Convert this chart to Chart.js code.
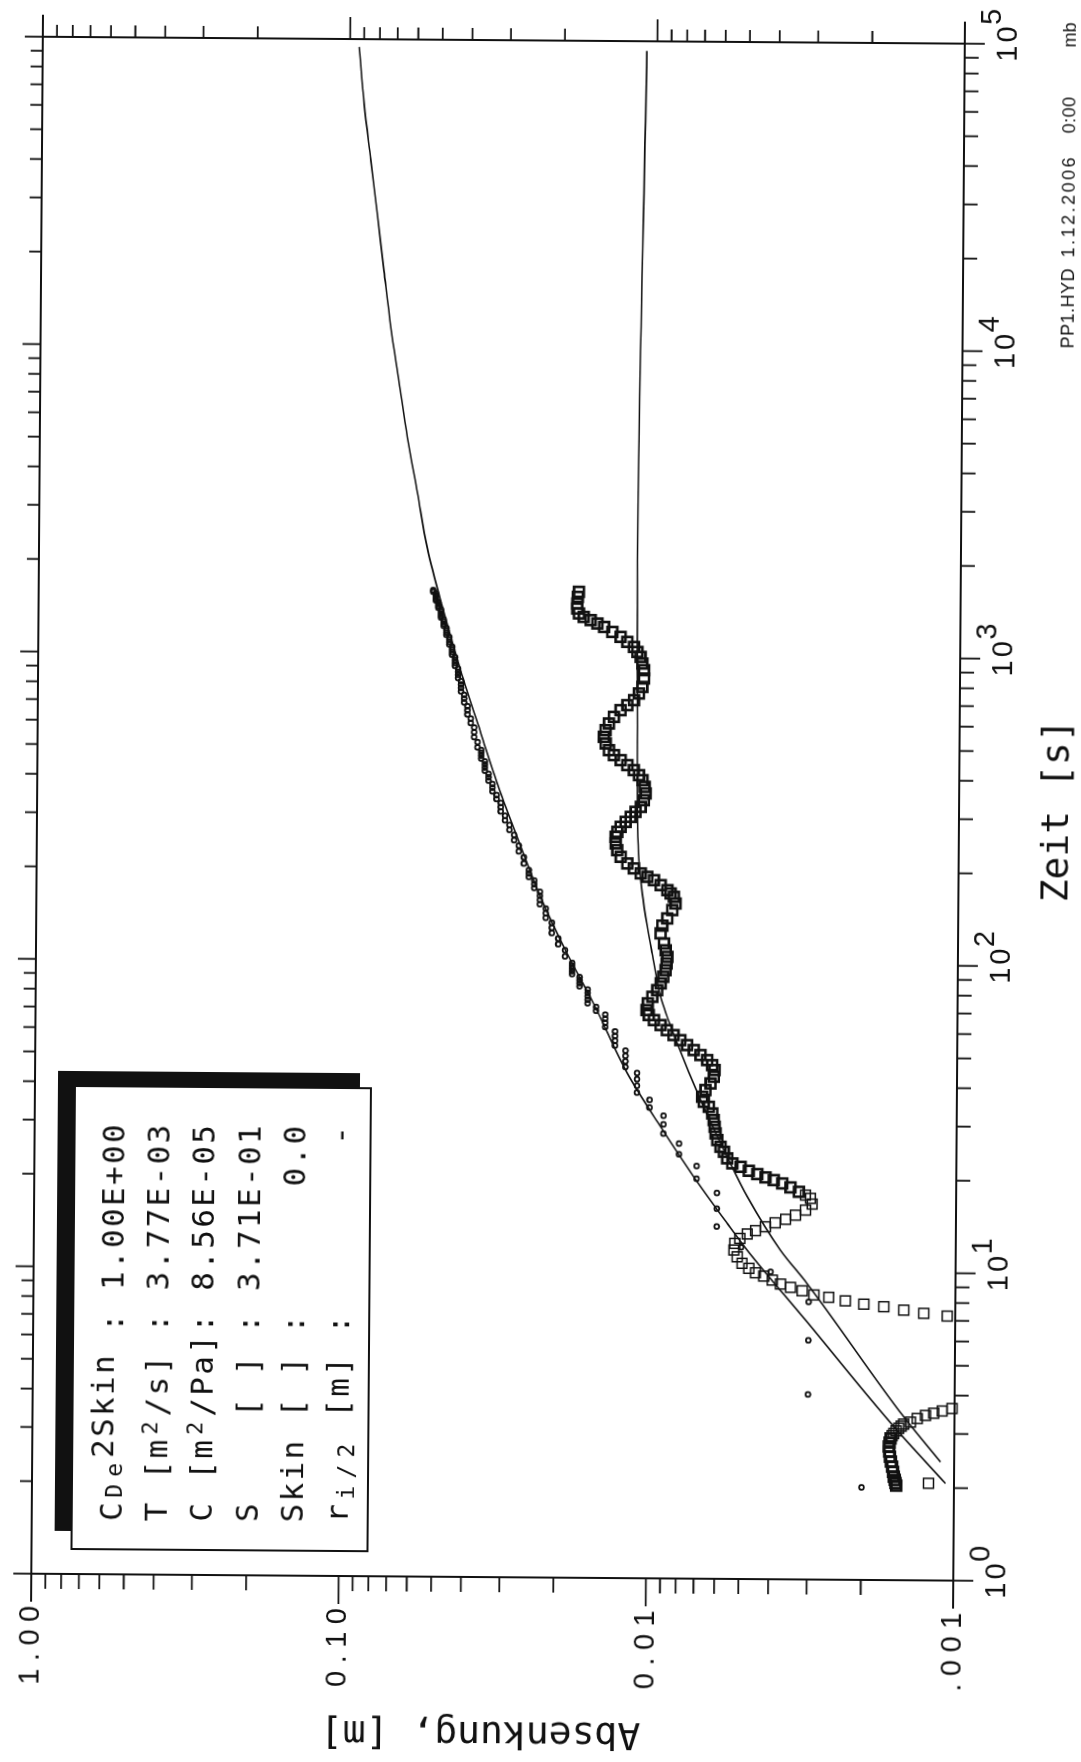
<!DOCTYPE html>
<html>
  <head>
    <meta charset="utf-8">
    <title>PP1 - Absenkung / Zeit</title>
    <script src="https://cdn.jsdelivr.net/npm/chart.js@4.4.1/dist/chart.umd.min.js"></script>
    <style>
      html, body { margin: 0; padding: 0; background: #fff; }
      body { width: 1081px; height: 1762px; position: relative; overflow: hidden; }
      /* the plot is printed in landscape, turned onto the portrait page */
      #sheet {
        position: absolute; left: -340.5px; top: 340.5px;
        width: 1762px; height: 1081px;
        transform: rotate(-89.57deg);
      }
      canvas { display: block; }
    </style>
  </head>
  <body>
    <div id="sheet"><canvas id="canvas" width="1762" height="1081"></canvas></div>
    <script>
      var ink = '#111';

      // squares: time [s] and drawdown [mm]
      var squareTime = [2.07, 2.03, 2.07, 2.12, 2.17, 2.25, 2.34, 2.43, 2.52, 2.62, 2.72, 2.80, 2.89, 2.95, 3.00, 3.06, 3.12, 3.17, 3.22, 3.27, 3.36, 3.44, 3.50, 3.56, 3.63,
        7.25, 7.39, 7.56, 7.75, 7.89, 8.08, 8.29, 8.43, 8.69, 8.91, 9.13, 9.40, 9.68, 9.92, 10.25, 10.64, 11.17, 11.75, 12.35, 12.82, 13.26, 13.60, 14.01, 14.44, 14.83, 15.31, 15.91, 16.65,
        17.38, 17.80, 18.24, 18.84, 19.40, 19.88, 20.28, 20.78, 21.29, 21.92, 22.48, 23.34, 24.51, 25.44, 26.75, 28.12, 29.55, 31.07, 32.65, 34.30, 35.60, 36.97, 38.88, 40.87, 42.98, 45.19,
        46.88, 48.67, 50.52, 52.42, 54.39, 56.42, 58.59, 60.78, 63.10, 65.46, 67.96, 70.54, 74.18, 77.94, 81.94, 86.24, 90.61, 95.25, 100.1, 105.2, 110.5,
        116.3, 125.4, 132.9, 140.3, 149.4, 157.0, 165.0, 169.2, 173.4, 180.0, 186.7, 191.4, 196.3, 203.7, 211.3, 222.0, 233.3, 245.3, 257.8, 267.6,
        277.9, 288.5, 299.6, 311.2, 323.1, 339.8, 357.4, 375.5, 394.7, 409.7, 425.3, 441.4, 458.0, 475.3, 493.2, 518.5, 544.7, 572.8, 602.3, 633.0,
        666.0, 691.6, 718.2, 755.3, 793.6, 845.3, 899.5, 945.6, 993.6, 1031, 1070, 1111, 1153, 1196, 1241, 1273, 1305, 1336, 1371, 1422, 1477, 1552, 1612];
      var squareMm = [1.21, 1.54, 1.55, 1.56, 1.571, 1.58, 1.590, 1.605, 1.619, 1.626, 1.632, 1.625, 1.613, 1.595, 1.575, 1.547, 1.517, 1.49, 1.462, 1.390, 1.322, 1.243, 1.168, 1.097, 1.019,
        1.062, 1.266, 1.471, 1.709, 1.985, 2.279, 2.582, 2.888, 3.151, 3.440, 3.710, 3.948, 4.205, 4.478, 4.709, 4.955, 5.140, 5.272, 5.237, 5.045, 4.772, 4.488, 4.168, 3.873, 3.583, 3.328, 3.089, 2.939,
        2.977, 3.090, 3.250, 3.461, 3.680, 3.923, 4.173, 4.444, 4.734, 5.037, 5.361, 5.569, 5.711, 5.856, 6.005, 6.088, 6.133, 6.171, 6.245, 6.409, 6.658, 6.739, 6.577, 6.338, 6.185, 6.152,
        6.264, 6.506, 6.843, 7.196, 7.571, 7.966, 8.384, 8.815, 9.241, 9.716, 10.10, 10.27, 10.18, 9.849, 9.494, 9.262, 9.084, 8.929, 8.868, 8.823, 8.93,
        9.057, 9.29, 9.173, 8.844, 8.523, 8.316, 8.428, 8.64, 8.856, 9.311, 9.797, 10.29, 10.82, 11.39, 11.97, 12.58, 12.91, 13.07, 13.08, 12.92,
        12.61, 12.15, 11.70, 11.28, 10.86, 10.61, 10.47, 10.56, 10.74, 11.02, 11.45, 12.03, 12.65, 13.31, 13.82, 14.17, 14.36, 14.19, 13.84, 13.34,
        12.69, 12.07, 11.49, 11.07, 10.80, 10.67, 10.68, 10.82, 10.96, 11.23, 11.53, 12.11, 12.74, 13.57, 14.44, 15.18, 15.97, 16.81, 17.43, 17.66, 17.66, 17.58, 17.46];

      // circles: logged in 1 mm steps -> first time at each level
      var dotLevelMm = [2, 3, 4, 5, 6, 7, 8, 9, 10, 11, 12, 13, 14, 15, 16, 17, 18, 19, 20, 21, 22, 23, 24, 25, 26, 27,
        28, 29, 30, 31, 32, 33, 34, 35, 36, 37, 38, 39, 40, 41, 42, 43, 44, 45, 46, 47, 48, 49, 50, 51, 52];
      var dotLevelStart = [2, 4, 10, 12, 14, 20, 24, 28, 34, 38, 46, 54, 62, 70, 74, 84, 92, 102, 112, 124, 138, 154, 172, 188, 206, 224,
        242, 264, 284, 308, 332, 360, 388, 420, 456, 496, 538, 584, 634, 694, 760, 828, 906, 992, 1080, 1160, 1236, 1318, 1406, 1500, 1584];
      var dotLastTime = 1620;
      var dotStepUntil = [100, 200, 500, Infinity];   // logger interval [s]
      var dotStep = [2, 5, 10, 20];

      // fitted curves
      var curveATime = [2.07, 3.16, 6.98, 11.75, 14.35, 20.3, 29.5, 43.9, 74, 107.4, 164, 238, 354, 555, 890, 1425, 2217, 3360, 5085, 7700, 11660, 17670, 26750, 40530, 61380, 94300];
      var curveAMm = [1.066, 1.575, 3.07, 4.77, 5.55, 7.15, 9.20, 11.83, 15.3, 18.7, 22.9, 26.6, 31.0, 36.1, 42.2, 48.5, 54.5, 58.9, 63.7, 68.0, 72.6, 76.6, 80.7, 85.1, 89.7, 93.4];
      var curveBTime = [2.43, 3.40, 9.19, 11.77, 17.52, 23.62, 36.06, 55.06, 78.0, 107.8, 131.6, 168.9, 216.7, 277, 718, 2049, 93000];
      var curveBMm = [1.108, 1.462, 3.043, 3.72, 4.78, 5.57, 6.82, 8.15, 9.26, 9.88, 10.26, 10.68, 10.97, 11.1, 11.20, 11.29, 10.82];

      var xDecades = [1, 10, 100, 1000, 10000, 100000];
      var xExponents = ['0', '1', '2', '3', '4', '5'];
      var yDecades = [1, 0.1, 0.01, 0.001];
      var yTickLabels = ['1.00', '0.10', '0.01', '.001'];

      // parameter box, monospaced; mask: b = small, l = small lowered, u = raised, s = small raised
      var paramLines = [
        'CDe2Skin : 1.00E+00',
        'T [m2/s] : 3.77E-03',
        'C [m2/Pa]: 8.56E-05',
        'S    [ ] : 3.71E-01',
        'Skin [ ] :      0.0',
        'ri/2 [m] :        -'
      ];
      var paramMasks = [
        '.bbuuuuu',
        '....s',
        '....s',
        '',
        '',
        '.lll'
      ];

      function pairs(ts, vs) {
        return ts.map(function (t, i) { return { x: t, y: vs[i] / 1000 }; });
      }

      function stepAt(t) {
        for (var i = 0; i < dotStepUntil.length; i++) {
          if (t < dotStepUntil[i]) return dotStep[i];
        }
        return dotStep[dotStep.length - 1];
      }

      function dotData() {
        var out = [], lvl = 0, t = dotLevelStart[0];
        while (t <= dotLastTime) {
          while (lvl + 1 < dotLevelStart.length && dotLevelStart[lvl + 1] <= t) lvl++;
          out.push({ x: t, y: dotLevelMm[lvl] / 1000 });
          t += stepAt(t);
        }
        return out;
      }

      function logTicks(min, max) {
        var out = [];
        for (var d = min; d < max * 1.0001; d *= 10) {
          out.push({ v: d, major: true });
          if (d * 10 > max * 1.0001) break;
          for (var k = 2; k <= 9; k++) out.push({ v: k * d, major: false });
        }
        return out;
      }

      function spacedWidth(ctx, txt, sp) {
        var w = 0;
        for (var i = 0; i < txt.length; i++) w += ctx.measureText(txt[i]).width;
        return w + sp * (txt.length - 1);
      }

      function drawSpaced(ctx, txt, x, y, sp) {
        ctx.textAlign = 'left';
        for (var i = 0; i < txt.length; i++) {
          ctx.fillText(txt[i], x, y);
          x += ctx.measureText(txt[i]).width + sp;
        }
      }

      function drawParams(ctx) {
        ctx.fillStyle = ink;
        ctx.fillRect(228, 59, 460, 302);
        ctx.fillStyle = '#fff';
        ctx.fillRect(210, 76, 463, 296);
        ctx.strokeStyle = ink;
        ctx.lineWidth = 2;
        ctx.strokeRect(210, 76, 463, 296);

        ctx.fillStyle = ink;
        ctx.textAlign = 'center';
        ctx.textBaseline = 'alphabetic';
        for (var i = 0; i < paramLines.length; i++) {
          var txt = paramLines[i], mask = paramMasks[i], base = 126 + i * 45.2;
          for (var j = 0; j < txt.length; j++) {
            var ch = txt[j];
            if (ch === ' ') continue;
            var m = mask[j] || '.', size = 31, dy = 0;
            if (m === 'b') { size = 23; dy = 0; }
            if (m === 'l') { size = 23; dy = 6; }
            if (m === 'u') { dy = -9; }
            if (m === 's') { size = 22; dy = -10; }
            ctx.font = size + 'px "DejaVu Sans Mono", monospace';
            ctx.fillText(ch, 237 + j * 21 + 10.5, base + dy);
          }
        }
      }

      var framePlugin = {
        id: 'frame',
        beforeDraw: function (chart) {
          var ctx = chart.ctx;
          ctx.save();
          ctx.fillStyle = '#fff';
          ctx.fillRect(0, 0, chart.width, chart.height);
          ctx.restore();
        },
        afterDraw: function (chart) {
          var ctx = chart.ctx, a = chart.chartArea;
          var xs = chart.scales.x, ys = chart.scales.y;
          ctx.save();
          ctx.strokeStyle = ink;
          ctx.fillStyle = ink;
          ctx.lineWidth = 2;
          ctx.strokeRect(a.left, a.top, a.right - a.left, a.bottom - a.top);

          // ticks on all four sides, pointing outwards
          ctx.lineWidth = 1.8;
          ctx.beginPath();
          logTicks(1, 1e5).forEach(function (t) {
            var px = xs.getPixelForValue(t.v);
            ctx.moveTo(px, a.bottom); ctx.lineTo(px, a.bottom + (t.major ? 20 : 14));
            ctx.moveTo(px, a.top); ctx.lineTo(px, a.top - (t.major ? 18 : 12));
          });
          logTicks(0.001, 1).forEach(function (t) {
            var py = ys.getPixelForValue(t.v);
            ctx.moveTo(a.left, py); ctx.lineTo(a.left - (t.major ? 28 : 15), py);
            ctx.moveTo(a.right, py); ctx.lineTo(a.right + (t.major ? 22 : 12), py);
          });
          ctx.stroke();

          // tick labels
          ctx.textBaseline = 'alphabetic';
          ctx.font = '29px "Liberation Sans", Arial, sans-serif';
          xDecades.forEach(function (v, i) {
            var px = xs.getPixelForValue(v);
            var w = spacedWidth(ctx, '10', 3);
            drawSpaced(ctx, '10', px - w / 2, 1010, 3);
            drawSpaced(ctx, xExponents[i], px + 19, 994, 0);
          });
          yDecades.forEach(function (v, i) {
            var py = ys.getPixelForValue(v);
            drawSpaced(ctx, yTickLabels[i], 74, py + 8, 7.5);
          });

          // axis titles
          ctx.font = '38px "DejaVu Sans Mono", monospace';
          ctx.textAlign = 'center';
          ctx.fillText('Zeit [s]', (a.left + a.right) / 2 + 2, 1067);
          ctx.save();
          ctx.translate(40, 486);
          ctx.rotate(-Math.PI / 2);
          ctx.fillText('Absenkung, [m]', 0, 0);
          ctx.restore();

          // file / date line
          ctx.font = '18px "Liberation Sans", Arial, sans-serif';
          drawSpaced(ctx, 'PP1.HYD', 1418, 1069, 0.5);
          drawSpaced(ctx, '1.12.2006', 1509, 1069, 2.5);
          drawSpaced(ctx, '0:00', 1633, 1069, 0.5);
          drawSpaced(ctx, 'mb', 1719, 1069, 0);

          drawParams(ctx);
          ctx.restore();
        }
      };

      function drawChart() {
        var config = {
          type: 'scatter',
          data: {
            datasets: [{
              label: 'Kurve A',
              data: pairs(curveATime, curveAMm),
              showLine: true,
              pointRadius: 0,
              borderColor: ink,
              borderWidth: 1.6,
              cubicInterpolationMode: 'monotone',
              clip: false
            }, {
              label: 'Kurve B',
              data: pairs(curveBTime, curveBMm),
              showLine: true,
              pointRadius: 0,
              borderColor: ink,
              borderWidth: 1.6,
              cubicInterpolationMode: 'monotone',
              clip: false
            }, {
              label: 'Messwerte',
              data: dotData(),
              pointStyle: 'circle',
              pointRadius: 2.4,
              borderWidth: 1.8,
              borderColor: ink,
              backgroundColor: 'rgba(255,255,255,0)',
              clip: false
            }, {
              label: 'Messwerte 2',
              data: pairs(squareTime, squareMm),
              pointStyle: 'rect',
              pointRadius: 7,
              // heavier outline where the printed squares pile up into a band
              borderWidth: function (c) {
                var p = c.raw;
                if (!p) return 1.5;
                if (p.x < 2.95 && p.y > 0.0014) return 2.6;
                return p.x > 18 ? 2.6 : 1.5;
              },
              borderColor: ink,
              backgroundColor: 'rgba(255,255,255,0)',
              clip: false
            }]
          },
          options: {
            responsive: false,
            animation: false,
            devicePixelRatio: 1,
            events: [],
            layout: { padding: { left: 185, right: 40, top: 36, bottom: 123 } },
            plugins: { legend: { display: false }, tooltip: { enabled: false } },
            scales: {
              x: { type: 'logarithmic', min: 1, max: 100000, display: false },
              y: { type: 'logarithmic', min: 0.001, max: 1, display: false }
            }
          },
          plugins: [framePlugin]
        };

        var ctx = document.getElementById('canvas').getContext('2d');
        window.myChart = new Chart(ctx, config);
      }

      drawChart();
    </script>
  </body>
</html>
